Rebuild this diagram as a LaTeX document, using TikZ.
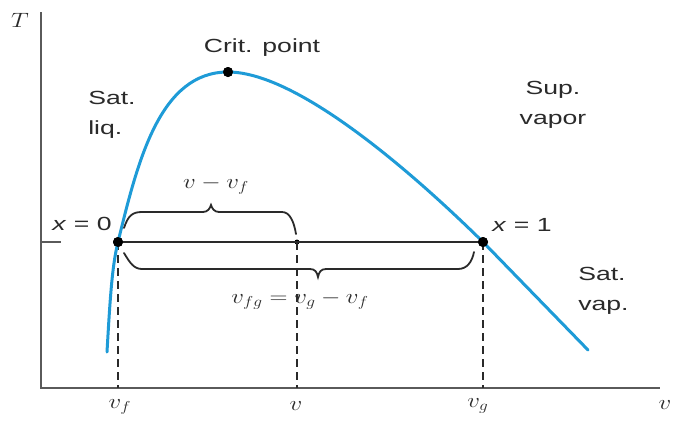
\documentclass[tikz,border=0pt]{standalone}
\usepackage{fontspec}
\setmainfont{Liberation Sans}
\definecolor{curveblue}{HTML}{1E9BD7}
\definecolor{axisgray}{HTML}{5A5A5A}
\definecolor{inkgray}{HTML}{2A2A2A}
\begin{document}
\begin{tikzpicture}[x=1pt,y=-1pt,
  lbl/.style={inner sep=0pt,text=inkgray,font=\fontsize{19}{30}\selectfont,xscale=1.4},
  mlbl/.style={inner sep=0pt,text=inkgray,font=\fontsize{21}{24}\selectfont,xscale=1.2},
  axisline/.style={draw=axisgray,line width=2.4pt},
  dashline/.style={draw=inkgray,line width=1.4pt,dash pattern=on 8pt off 5pt},
  bracepath/.style={draw=inkgray,line width=1.8pt,line cap=round},
  statedot/.style={circle,fill=black,inner sep=0pt,minimum size=10pt},
  smalldot/.style={circle,fill=black,inner sep=0pt,minimum size=5pt}]
\useasboundingbox (0,0) rectangle (673,426);
% axes
\coordinate (origin) at (41,388);
\coordinate (ytop) at (41,12);
\coordinate (xend) at (660,388);
\coordinate (tickl) at (41,242);
\coordinate (tickr) at (61,242);
\draw[axisline] (ytop) -- (origin) -- (xend);
\draw[axisgray,line width=2pt] (tickl) -- (tickr);
% key points
\coordinate (bot) at (107,352);
\node[statedot] (f) at (118,242) {};
\node[statedot] (g) at (483,242) {};
\node[statedot] (cp) at (228,72) {};
\node[smalldot] (m) at (297,242) {};
\coordinate (end) at (588,350);
\coordinate (fb) at (118,388);
\coordinate (mb) at (297,388);
\coordinate (gb) at (483,388);
% dashed verticals
\draw[dashline] (f.center) -- (fb);
\draw[dashline] (m.center) -- (mb);
\draw[dashline] (g.center) -- (gb);
% tie line
\draw[inkgray,line width=1.8pt] (f.center) -- (g.center);
% saturation dome
\draw[curveblue,line width=3pt,line cap=round]
  (bot) .. controls (110,300) and (112,266) .. (f.center)
        .. controls (138,160) and (160,72) .. (cp.center)
        .. controls (300,72) and (420,180) .. (g.center)
        -- (end);
\node[statedot] at (f) {};
\node[statedot] at (g) {};
\node[statedot] at (cp) {};
% braces
\draw[bracepath] (124,228) .. controls (128,216) and (132,212) .. (142,212)
  -- (203,212) .. controls (208,212) and (210,208) .. (211,205)
  .. controls (212,208) and (214,212) .. (219,212)
  -- (282,212) .. controls (290,212) and (294,222) .. (296,234);
\draw[bracepath] (124,253) .. controls (130,263) and (134,269) .. (142,269)
  -- (310,269) .. controls (315,269) and (317,272) .. (318,277)
  .. controls (319,272) and (321,269) .. (326,269)
  -- (458,269) .. controls (467,269) and (472,262) .. (474,252);
% labels
\node[mlbl] (Tlab) at (20,20) {$T$};
\node[mlbl] (vlab) at (665,405) {$v$};
\node[lbl] (crit) at (262,48) {Crit. point};
\node[lbl,align=left,anchor=west] (satliq) at (88,115) {Sat.\\liq.};
\node[lbl,align=center] (sup) at (553,105) {Sup.\\vapor};
\node[lbl,align=left,anchor=west] (satvap) at (578,291) {Sat.\\vap.};
\node[lbl] (x0) at (82,224) {\textit{x} = 0};
\node[lbl] (x1) at (522,225) {\textit{x} = 1};
\node[mlbl] (vmvf) at (216,185) {$v - v_f$};
\node[mlbl] (vfg) at (300,300) {$v_{fg} = v_g - v_f$};
\node[mlbl] (vf) at (120,407) {$v_f$};
\node[mlbl] (vv) at (296,406) {$v$};
\node[mlbl] (vg) at (478,406) {$v_g$};
\end{tikzpicture}
\end{document}
